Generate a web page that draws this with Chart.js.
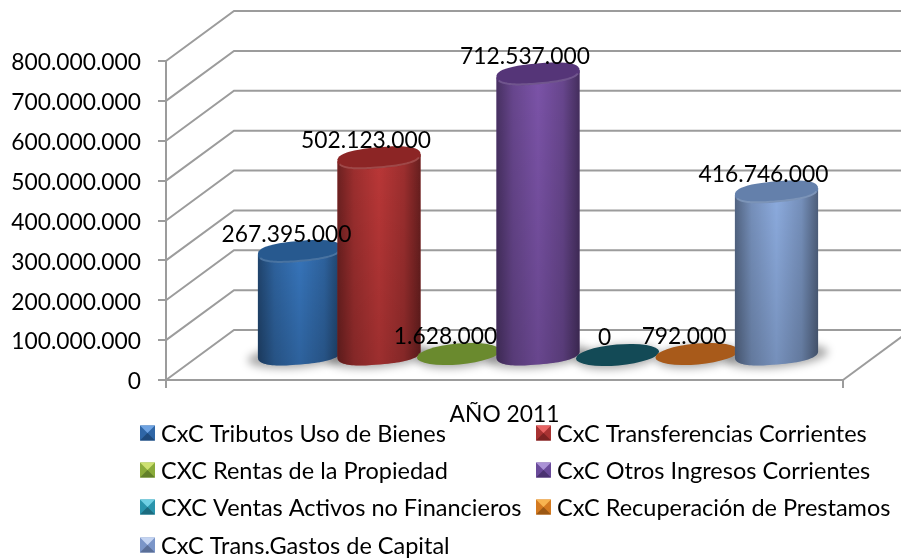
<!DOCTYPE html>
<html>
<head>
<meta charset="utf-8">
<style>
    body { margin: 0; background: #fff; }
    canvas { display: block; }
</style>
<script src="https://cdn.jsdelivr.net/npm/chart.js@4"></script>
</head>
<body>
<canvas id="cxcChart" width="901" height="558"></canvas>
<script>
const categories = ['AÑO 2011'];
const seriesNames = [
    'CxC Tributos Uso de Bienes',
    'CxC Transferencias Corrientes',
    'CXC Rentas de la Propiedad',
    'CxC Otros Ingresos Corrientes',
    'CXC Ventas Activos no Financieros',
    'CxC Recuperación de Prestamos',
    'CxC Trans.Gastos de Capital'
];
const seriesValues = [267395000, 502123000, 1628000, 712537000, 0, 792000, 416746000];
const yTickLabels = ['0', '100.000.000', '200.000.000', '300.000.000', '400.000.000',
    '500.000.000', '600.000.000', '700.000.000', '800.000.000'];

// [centre of the body, top face]
const barColors = [
    ['#3674ba', '#27598f'],
    ['#ba3737', '#8c2525'],
    ['#6a8a2e', '#6a8a2e'],
    ['#7b53a8', '#553578'],
    ['#134a56', '#134a56'],
    ['#a85a1a', '#a85a1a'],
    ['#8cabde', '#6480ab']
];
// [body, top triangle, bottom triangle]
const legendColors = [
    ['#2f66a6', '#6fa3e2', '#1f4a7c'],
    ['#a83232', '#e86464', '#7c2222'],
    ['#8aab3a', '#cde070', '#62802a'],
    ['#6a4a9a', '#ab92d6', '#4a3270'],
    ['#2a94ac', '#6fd0e4', '#1c6c80'],
    ['#d47a20', '#f8b450', '#9c5814'],
    ['#7a95c8', '#c4d4f2', '#5a6f98']
];

const FONT = 'Lato';
const FONT_SIZE = 22.8;
const LEGEND_FONT_SIZE = 23.5;
const GRID_COLOR = '#9c9c9c';
const DEPTH_X = 68;
const DEPTH_Y = 50;
const BAR_SHIFT_X = 33.5;
const BAR_SHIFT_Y = 25;
const BAR_OVERLAP = 2;
const TILT = -5 * Math.PI / 180;
const RY = 10.5;

function formatValue(value) {
    return String(value).replace(/\B(?=(\d{3})+(?!\d))/g, '.');
}

const wallsPlugin = {
    id: 'walls',
    beforeDatasetsDraw(chart) {
        const ctx = chart.ctx;
        const yScale = chart.scales.y;
        const area = chart.chartArea;
        ctx.save();
        ctx.strokeStyle = GRID_COLOR;
        ctx.lineWidth = 2;
        yScale.ticks.forEach(tick => {
            const y = yScale.getPixelForValue(tick.value);
            ctx.beginPath();
            ctx.moveTo(area.left, y);
            ctx.lineTo(area.left + DEPTH_X, y - DEPTH_Y);
            ctx.lineTo(chart.width, y - DEPTH_Y);
            ctx.stroke();
        });
        ctx.beginPath();
        ctx.moveTo(area.right, area.bottom);
        ctx.lineTo(area.right + DEPTH_X, area.bottom - DEPTH_Y);
        ctx.stroke();
        ctx.restore();
    }
};

// rounder than a true ellipse, the reference cylinders have soft shoulders
function roundArc(ctx, cx, cy, rx, ry, from, to) {
    const power = 2 / 2.5;
    const steps = 48;
    for (let s = 0; s <= steps; s++) {
        const t = from + (to - from) * s / steps;
        const c = Math.cos(t);
        const d = Math.sin(t);
        const px = rx * Math.sign(c) * Math.pow(Math.abs(c), power);
        const py = ry * Math.sign(d) * Math.pow(Math.abs(d), power);
        ctx.lineTo(cx + px * Math.cos(TILT) - py * Math.sin(TILT), cy + px * Math.sin(TILT) + py * Math.cos(TILT));
    }
}

function cylinder(ctx, cx, baseY, topY, rx, colors) {
    const tx = rx * Math.cos(TILT);
    const ty = rx * Math.sin(TILT);

    ctx.beginPath();
    ctx.moveTo(cx - tx, topY - ty);
    ctx.lineTo(cx - tx, baseY - ty);
    roundArc(ctx, cx, baseY, rx, RY, Math.PI, 0);
    ctx.lineTo(cx + tx, topY + ty);
    ctx.closePath();
    ctx.fillStyle = colors[0];
    ctx.fill();

    // curved shading, dark only near the sides
    const sides = ctx.createLinearGradient(cx - rx, 0, cx + rx, 0);
    sides.addColorStop(0, 'rgba(0,0,0,0.42)');
    sides.addColorStop(0.2, 'rgba(0,0,0,0.16)');
    sides.addColorStop(0.5, 'rgba(0,0,0,0)');
    sides.addColorStop(0.8, 'rgba(0,0,0,0.16)');
    sides.addColorStop(1, 'rgba(0,0,0,0.45)');
    ctx.fillStyle = sides;
    ctx.fill();

    // darker toward the floor
    const shade = ctx.createLinearGradient(0, topY, 0, baseY + RY);
    shade.addColorStop(0, 'rgba(0,0,0,0)');
    shade.addColorStop(1, 'rgba(0,0,0,0.16)');
    ctx.fillStyle = shade;
    ctx.fill();

    ctx.beginPath();
    roundArc(ctx, cx, topY, rx, RY, 0, Math.PI * 2);
    ctx.closePath();
    ctx.fillStyle = colors[1];
    ctx.fill();

    // lit rim on the near edge of the top
    ctx.beginPath();
    roundArc(ctx, cx, topY, rx - 1, RY - 1, 0.25, Math.PI - 0.25);
    ctx.strokeStyle = 'rgba(255,255,255,0.16)';
    ctx.lineWidth = 2;
    ctx.stroke();
}

function disc(ctx, cx, cy, rx, colors) {
    ctx.beginPath();
    ctx.ellipse(cx, cy, rx, RY, TILT, 0, Math.PI * 2);
    ctx.fillStyle = colors[1];
    ctx.fill();
}

const cylindersPlugin = {
    id: 'cylinders',
    afterDatasetsDraw(chart) {
        const ctx = chart.ctx;
        ctx.save();

        // soft floor shadows first
        ctx.filter = 'blur(4px)';
        ctx.fillStyle = 'rgba(0,0,0,0.34)';
        chart.data.datasets.forEach((ds, i) => {
            const bar = chart.getDatasetMeta(i).data[0];
            const tall = seriesValues[i] > 10000000;
            ctx.beginPath();
            ctx.ellipse(bar.x + BAR_SHIFT_X, bar.base - BAR_SHIFT_Y + 2, bar.width / 2 + (tall ? 12 : 2), RY + 1, TILT, 0, Math.PI * 2);
            ctx.fill();
        });
        ctx.filter = 'none';

        chart.data.datasets.forEach((ds, i) => {
            const bar = chart.getDatasetMeta(i).data[0];
            const baseY = bar.base - BAR_SHIFT_Y;
            const topY = Math.min(baseY, bar.y - BAR_SHIFT_Y + 3);
            const rx = bar.width / 2 + BAR_OVERLAP;
            if (baseY - topY > 4) {
                cylinder(ctx, bar.x + BAR_SHIFT_X, baseY, topY, rx, barColors[i]);
            } else {
                disc(ctx, bar.x + BAR_SHIFT_X, topY, rx, barColors[i]);
            }
        });

        ctx.font = FONT_SIZE + 'px ' + FONT;
        ctx.fillStyle = '#000';
        ctx.textAlign = 'center';
        ctx.textBaseline = 'middle';
        chart.data.datasets.forEach((ds, i) => {
            const bar = chart.getDatasetMeta(i).data[0];
            const topY = Math.min(bar.base, bar.y + 3) - BAR_SHIFT_Y;
            ctx.fillText(formatValue(seriesValues[i]), bar.x + BAR_SHIFT_X - 13, topY - 17);
        });
        ctx.restore();
    }
};

const legendPlugin = {
    id: 'cornerLegend',
    afterDraw(chart) {
        const ctx = chart.ctx;
        const markerX = [140, 536];
        const rowY = [433, 470, 507, 545];
        const size = 15;
        ctx.save();
        ctx.font = LEGEND_FONT_SIZE + 'px ' + FONT;
        ctx.textAlign = 'left';
        ctx.textBaseline = 'middle';
        seriesNames.forEach((name, i) => {
            const x = markerX[i % 2];
            const y = rowY[Math.floor(i / 2)];
            const top = y - size / 2;
            const c = legendColors[i];
            ctx.fillStyle = c[0];
            ctx.fillRect(x, top, size, size);
            ctx.fillStyle = c[1];
            ctx.beginPath();
            ctx.moveTo(x, top);
            ctx.lineTo(x + size, top);
            ctx.lineTo(x + size / 2, top + size / 2);
            ctx.closePath();
            ctx.fill();
            ctx.fillStyle = c[2];
            ctx.beginPath();
            ctx.moveTo(x, top + size);
            ctx.lineTo(x + size, top + size);
            ctx.lineTo(x + size / 2, top + size / 2);
            ctx.closePath();
            ctx.fill();
            ctx.fillStyle = '#000';
            ctx.fillText(name, x + 21, y + 1);
        });
        ctx.restore();
    }
};

const datasets = seriesNames.map((name, i) => ({
    label: name,
    data: [seriesValues[i]],
    backgroundColor: 'rgba(0,0,0,0)'
}));

new Chart(document.getElementById('cxcChart'), {
    type: 'bar',
    data: { labels: categories, datasets: datasets },
    plugins: [wallsPlugin, cylindersPlugin, legendPlugin],
    options: {
        responsive: false,
        animation: false,
        barPercentage: 1,
        categoryPercentage: 556.5 / 677,
        layout: { padding: { top: 61, right: 58, bottom: 118, left: 0 } },
        plugins: {
            legend: { display: false },
            title: { display: false },
            tooltip: { enabled: false }
        },
        scales: {
            x: {
                afterFit(scale) { scale.height = 60; },
                grid: { drawOnChartArea: false, tickLength: 8, color: GRID_COLOR, lineWidth: 2 },
                border: { color: GRID_COLOR, width: 2 },
                ticks: { color: '#000', font: { family: FONT, size: FONT_SIZE }, padding: 13, maxRotation: 0 }
            },
            y: {
                min: 0,
                max: 800000000,
                afterFit(scale) { scale.width = 166; },
                grid: { drawOnChartArea: false, tickLength: 8, color: GRID_COLOR, lineWidth: 2 },
                border: { color: GRID_COLOR, width: 2 },
                ticks: {
                    stepSize: 100000000,
                    color: '#000',
                    font: { family: FONT, size: FONT_SIZE },
                    padding: 17,
                    labelOffset: 2,
                    callback: (value, index) => yTickLabels[index]
                }
            }
        }
    }
});
</script>
</body>
</html>
